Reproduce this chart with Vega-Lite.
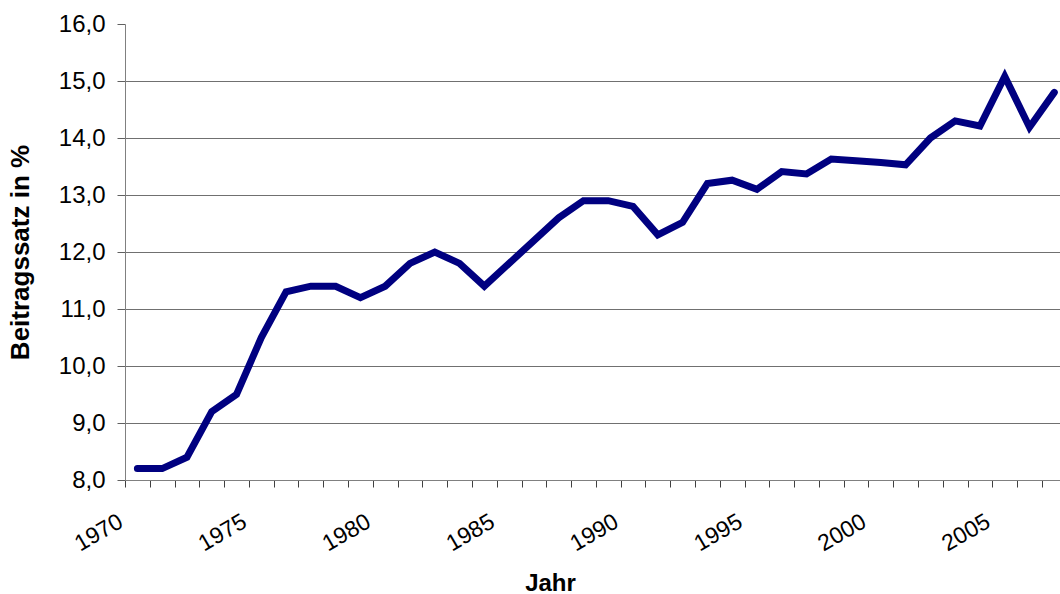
{
  "$schema": "https://vega.github.io/schema/vega-lite/v6.json",
  "autosize": {"type": "none"},
  "padding": {"left": 125, "top": 24, "right": 0, "bottom": 114},
  "width": 935,
  "height": 456,
  "background": "white",
  "config": {"view": {"stroke": null}, "font": "Liberation Sans"},
  "data": {"values": [
    {"Jahr": 1970, "Beitragssatz": 8.2},
    {"Jahr": 1971, "Beitragssatz": 8.2},
    {"Jahr": 1972, "Beitragssatz": 8.4},
    {"Jahr": 1973, "Beitragssatz": 9.2},
    {"Jahr": 1974, "Beitragssatz": 9.5},
    {"Jahr": 1975, "Beitragssatz": 10.5},
    {"Jahr": 1976, "Beitragssatz": 11.3},
    {"Jahr": 1977, "Beitragssatz": 11.4},
    {"Jahr": 1978, "Beitragssatz": 11.4},
    {"Jahr": 1979, "Beitragssatz": 11.2},
    {"Jahr": 1980, "Beitragssatz": 11.4},
    {"Jahr": 1981, "Beitragssatz": 11.8},
    {"Jahr": 1982, "Beitragssatz": 12.0},
    {"Jahr": 1983, "Beitragssatz": 11.8},
    {"Jahr": 1984, "Beitragssatz": 11.4},
    {"Jahr": 1985, "Beitragssatz": 11.8},
    {"Jahr": 1986, "Beitragssatz": 12.2},
    {"Jahr": 1987, "Beitragssatz": 12.6},
    {"Jahr": 1988, "Beitragssatz": 12.9},
    {"Jahr": 1989, "Beitragssatz": 12.9},
    {"Jahr": 1990, "Beitragssatz": 12.8},
    {"Jahr": 1991, "Beitragssatz": 12.3},
    {"Jahr": 1992, "Beitragssatz": 12.52},
    {"Jahr": 1993, "Beitragssatz": 13.2},
    {"Jahr": 1994, "Beitragssatz": 13.26},
    {"Jahr": 1995, "Beitragssatz": 13.1},
    {"Jahr": 1996, "Beitragssatz": 13.41},
    {"Jahr": 1997, "Beitragssatz": 13.37},
    {"Jahr": 1998, "Beitragssatz": 13.63},
    {"Jahr": 1999, "Beitragssatz": 13.6},
    {"Jahr": 2000, "Beitragssatz": 13.57},
    {"Jahr": 2001, "Beitragssatz": 13.53},
    {"Jahr": 2002, "Beitragssatz": 14.0},
    {"Jahr": 2003, "Beitragssatz": 14.3},
    {"Jahr": 2004, "Beitragssatz": 14.21},
    {"Jahr": 2005, "Beitragssatz": 15.08},
    {"Jahr": 2006, "Beitragssatz": 14.19},
    {"Jahr": 2007, "Beitragssatz": 14.8}
  ]},
  "mark": {"type": "line", "color": "#000080", "strokeWidth": 7, "strokeCap": "round", "strokeJoin": "miter"},
  "encoding": {
    "x": {
      "field": "Jahr", "type": "quantitative",
      "scale": {"domain": [1969.5, 2007.23], "nice": false, "zero": false},
      "axis": {
        "title": "Jahr",
        "values": [1970,1971,1972,1973,1974,1975,1976,1977,1978,1979,1980,1981,1982,1983,1984,1985,1986,1987,1988,1989,1990,1991,1992,1993,1994,1995,1996,1997,1998,1999,2000,2001,2002,2003,2004,2005,2006,2007],
        "labelExpr": "datum.value % 5 == 0 ? format(datum.value, 'd') : ''",
        "grid": false,
        "tickOffset": -12.39,
        "labelOffset": -10,
        "tickSize": 7,
        "tickColor": "#404040",
        "domainColor": "#808080",
        "labelAngle": -30,
        "labelAlign": "right",
        "labelBaseline": "top",
        "labelPadding": 23,
        "labelFontSize": 23,
        "labelColor": "black",
        "labelOverlap": false,
        "labelBound": false,
        "labelFlush": false,
        "titleFontSize": 24,
        "titleFontWeight": "bold",
        "titleColor": "black",
        "titleX": 425,
        "titleY": 110,
        "titleBaseline": "alphabetic",
        "titleAlign": "center"
      }
    },
    "y": {
      "field": "Beitragssatz", "type": "quantitative",
      "scale": {"domain": [8, 16], "nice": false, "zero": false},
      "axis": {
        "title": "Beitragssatz in %",
        "values": [8,9,10,11,12,13,14,15,16],
        "labelExpr": "replace(format(datum.value, '.1f'), '.', ',')",
        "grid": true,
        "gridColor": "#707070",
        "gridOpacity": {"condition": {"test": "datum.value >= 16 || datum.value <= 8", "value": 0}, "value": 1},
        "tickSize": 8,
        "tickColor": "#606060",
        "domainColor": "#808080",
        "labelPadding": 12,
        "labelFontSize": 24,
        "labelColor": "black",
        "labelOverlap": false,
        "labelBound": false,
        "labelFlush": false,
        "titleFontSize": 26,
        "titleFontWeight": "bold",
        "titleColor": "black",
        "titleAngle": -90,
        "titleX": -97,
        "titleY": 228,
        "titleBaseline": "alphabetic",
        "titleAlign": "center"
      }
    }
  }
}
